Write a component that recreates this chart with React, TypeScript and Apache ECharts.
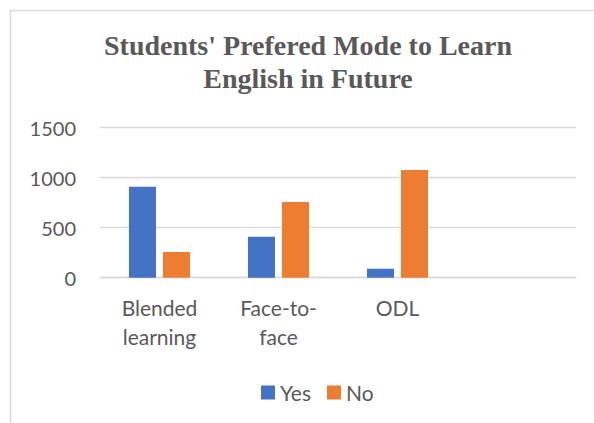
import React, { useEffect, useRef } from "react";
import * as echarts from "echarts";

const categories: string[] = ["Blended\nlearning", "Face-to-\nface", "ODL", ""];
const yesValues: (number | null)[] = [910, 410, 90, null];
const noValues: (number | null)[] = [257, 757, 1077, null];
const seriesNames: string[] = ["Yes", "No"];
const titleText = "Students' Prefered Mode to Learn\nEnglish in Future";
const yMin = 0;
const yMax = 1500;
const yInterval = 500;

const TEXT = "#595959";
const GRID = "#d9d9d9";
const BLUE = "#4472C4";
const ORANGE = "#ED7D31";
const SANS = "Lato, 'Open Sans', sans-serif";

export default function App() {
  const ref = useRef<HTMLDivElement>(null);
  useEffect(() => {
    if (!ref.current) return;
    const chart = echarts.init(ref.current, undefined, { renderer: "svg" });
    chart.setOption({
      animation: false,
      backgroundColor: "#ffffff",
      graphic: [
        {
          type: "rect",
          shape: { x: 10.5, y: 10.5, width: 700, height: 600 },
          style: { fill: "none", stroke: GRID, lineWidth: 1.5 },
          silent: true,
        },
        {
          type: "text",
          x: 308,
          y: 29,
          style: {
            text: titleText,
            align: "center",
            verticalAlign: "top",
            fontFamily: "'Liberation Serif', 'Times New Roman', serif",
            fontWeight: "bold",
            fontSize: 28,
            lineHeight: 33,
            fill: TEXT,
          },
        },
      ],
      legend: {
        data: seriesNames,
        left: 256,
        top: 377,
        itemWidth: 14,
        itemHeight: 14,
        itemGap: 16,
        icon: "rect",
        textStyle: { color: TEXT, fontSize: 21, fontFamily: SANS, padding: [0, 0, 0, 0] },
      },
      grid: { left: 100, width: 476, top: 127.7, height: 150 },
      xAxis: {
        type: "category",
        data: categories,
        axisLine: { show: true, lineStyle: { color: GRID, width: 1.3 } },
        axisTick: { show: false },
        axisLabel: {
          color: TEXT,
          fontSize: 21,
          fontFamily: SANS,
          lineHeight: 29,
          margin: 15,
          interval: 0,
        },
      },
      yAxis: {
        type: "value",
        min: yMin,
        max: yMax,
        interval: yInterval,
        axisLine: { show: false },
        axisTick: { show: false },
        splitLine: { lineStyle: { color: GRID, width: 1.3 } },
        axisLabel: {
          color: TEXT,
          fontSize: 20,
          fontFamily: SANS,
          margin: 24,
          formatter: (v: number) => String(v),
        },
      },
      series: [
        {
          name: seriesNames[0],
          type: "bar",
          data: yesValues,
          barWidth: 27,
          barGap: "26%",
          itemStyle: { color: BLUE },
        },
        {
          name: seriesNames[1],
          type: "bar",
          data: noValues,
          barWidth: 27,
          itemStyle: { color: ORANGE },
        },
      ],
    });
    return () => chart.dispose();
  }, []);
  return (
    <div
      ref={ref}
      style={{ position: "fixed", left: 0, top: 0, width: 594, height: 423, background: "#fff" }}
    />
  );
}
